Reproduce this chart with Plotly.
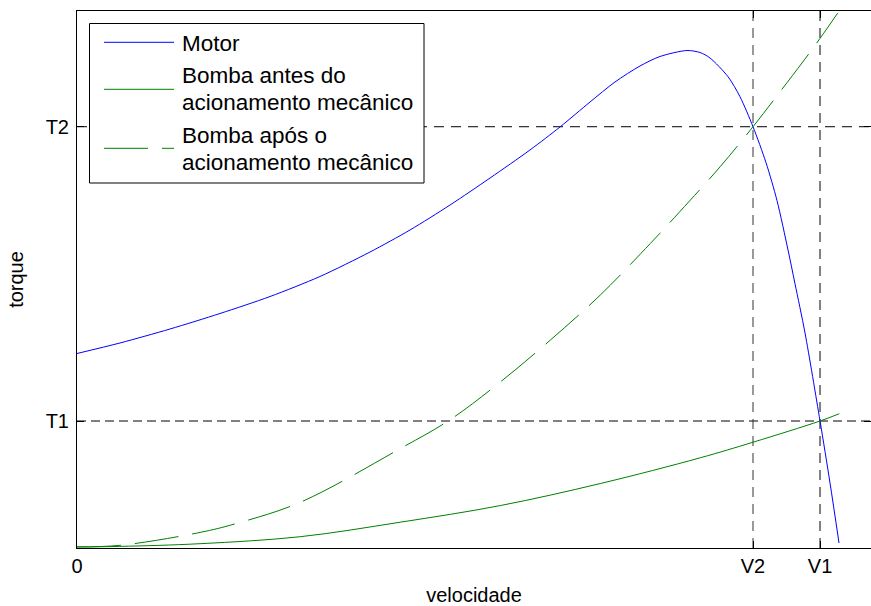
import plotly.graph_objects as go

FONT = "Liberation Sans, Arial, Helvetica, sans-serif"

# Operating points (normalised speed / torque)
V2, V1 = 0.8514, 0.9358
T1, T2 = 0.2365, 0.7845

# Motor torque-speed curve
motor_v = [0.0000, 0.0542, 0.1171, 0.1801, 0.2431, 0.3060, 0.3690, 0.4194, 0.4698,
           0.5202, 0.5705, 0.6083, 0.6461, 0.6776, 0.7091, 0.7343, 0.7683, 0.7846,
           0.7972, 0.8199, 0.8350, V2, 0.8678, 0.8816, 0.8955, 0.9043, 0.9169, V1,
           0.9484, 0.9597]
motor_t = [0.3622, 0.3818, 0.4078, 0.4367, 0.4683, 0.5056, 0.5512, 0.5922, 0.6387,
           0.6890, 0.7412, 0.7840, 0.8305, 0.8678, 0.8976, 0.9153, 0.9264, 0.9227,
           0.9125, 0.8777, 0.8404, T2, 0.7175, 0.6470, 0.5549, 0.4920, 0.4004, T1,
           0.1210, 0.0093]

# Pump load before the mechanical drive change
antes_v = [0.000, 0.054, 0.155, 0.281, 0.407, 0.533, 0.659, 0.785, V2, V1, 0.960]
antes_t = [0.002, 0.003, 0.008, 0.021, 0.048, 0.079, 0.120, 0.168, 0.197, T1, 0.250]

# Pump load after the mechanical drive change
apos_v = [0.000, 0.054, 0.155, 0.2015, 0.281, 0.407, 0.470, 0.533, 0.596, 0.659,
          0.722, 0.759, 0.810, V2, 0.882, 0.914, V1, 0.958]
apos_t = [0.002, 0.005, 0.029, 0.046, 0.085, 0.185, 0.239, 0.309, 0.387, 0.471,
          0.567, 0.626, 0.710, T2, 0.843, 0.905, 0.949, 0.996]

x_ticks = [0, V2, V1]
x_ticktext = ["0", "V2", "V1"]
y_ticks = [T1, T2]
y_ticktext = ["T1", "T2"]

legend_labels = [
    ["Motor"],
    ["Bomba antes do", "acionamento mecânico"],
    ["Bomba após o", "acionamento mecânico"],
]

BLUE = "#0000ff"
GREEN = "#008000"
DASH = "44px,14px"

fig = go.Figure()
fig.add_trace(go.Scatter(x=motor_v, y=motor_t, mode="lines", name="Motor",
                         line=dict(color=BLUE, width=1, shape="spline", smoothing=0.8)))
fig.add_trace(go.Scatter(x=antes_v, y=antes_t, mode="lines",
                         name="Bomba antes do acionamento mecânico",
                         line=dict(color=GREEN, width=1, shape="spline")))
fig.add_trace(go.Scatter(x=apos_v, y=apos_t, mode="lines",
                         name="Bomba após o acionamento mecânico",
                         line=dict(color=GREEN, width=1, shape="spline", dash=DASH)))

shapes = []
# Guide lines through the operating points
shapes.append(dict(type="line", xref="paper", yref="y", x0=0, x1=1, y0=T2, y1=T2,
                   line=dict(color="#000000", width=1, dash="10px,7px"), layer="below"))
shapes.append(dict(type="line", xref="paper", yref="y", x0=0, x1=1, y0=T1, y1=T1,
                   line=dict(color="#808080", width=2, dash="9px,5px"), layer="below"))
shapes.append(dict(type="line", xref="x", yref="paper", x0=V2, x1=V2, y0=0, y1=1,
                   line=dict(color="#333333", width=1, dash="10px,7px"), layer="below"))
shapes.append(dict(type="line", xref="x", yref="paper", x0=V1, x1=V1, y0=0, y1=1,
                   line=dict(color="#808080", width=2, dash="10px,7px"), layer="below"))

# Legend box drawn in pixel-derived paper coordinates
L, B, W, H = 77, 548, 794, 537


def px(xp):
    return (xp - L) / W


def py(yp):
    return (B - yp) / H


shapes.append(dict(type="rect", xref="paper", yref="paper",
                   x0=px(89.5), x1=px(424), y0=py(183), y1=py(23.5),
                   fillcolor="white", line=dict(color="black", width=1), layer="above"))
sample_y = [42.3, 89.3, 148.3]
sample_style = [(BLUE, "solid"), (GREEN, "solid"), (GREEN, DASH)]
for yy, (c, d) in zip(sample_y, sample_style):
    shapes.append(dict(type="line", xref="paper", yref="paper",
                       x0=px(104), x1=px(174), y0=py(yy), y1=py(yy),
                       line=dict(color=c, width=1, dash=d), layer="above"))

annotations = []
text_y = [[44], [75.5, 102.5], [135.5, 162.5]]
for lines, ys in zip(legend_labels, text_y):
    for t, yy in zip(lines, ys):
        annotations.append(dict(text=t, xref="paper", yref="paper", x=px(180),
                                y=py(yy), xanchor="left", yanchor="middle",
                                showarrow=False,
                                font=dict(family=FONT, size=22.5, color="black")))

fig.update_layout(
    width=871, height=606,
    margin=dict(l=L, r=0, t=11, b=606 - B),
    paper_bgcolor="white", plot_bgcolor="white",
    showlegend=False,
    shapes=shapes, annotations=annotations,
    font=dict(family=FONT, size=20, color="black"),
)
fig.update_xaxes(range=[0, 1], tickvals=x_ticks, ticktext=x_ticktext,
                 showgrid=False, zeroline=False, showline=True, linecolor="black",
                 linewidth=1, mirror="ticks", ticks="inside", ticklen=7,
                 tickcolor="black", tickfont=dict(size=20),
                 title=dict(text="velocidade", font=dict(size=20), standoff=11))
fig.update_yaxes(range=[0, 1], tickvals=y_ticks, ticktext=y_ticktext,
                 showgrid=False, zeroline=False, showline=True, linecolor="black",
                 linewidth=1, mirror="ticks", ticks="inside", ticklen=7,
                 tickcolor="black", tickfont=dict(size=20), ticklabelstandoff=3,
                 title=dict(text="torque", font=dict(size=20), standoff=16))

fig.write_html("out.html")
